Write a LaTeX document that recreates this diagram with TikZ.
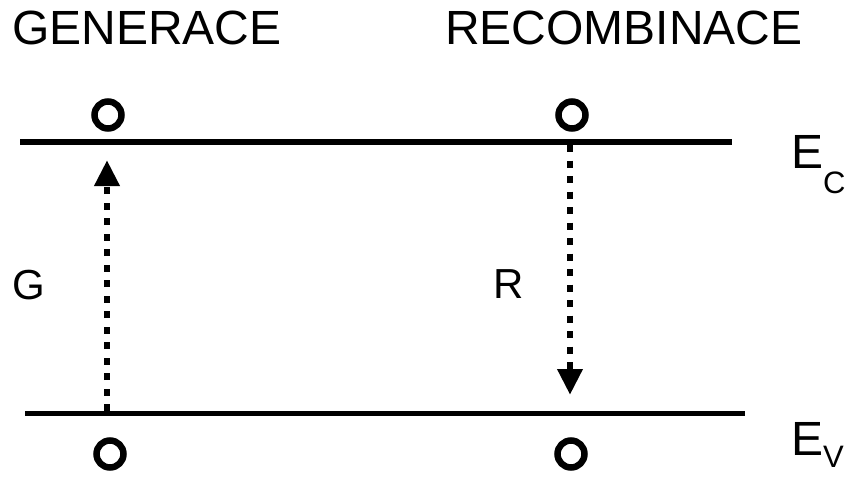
\documentclass[tikz,border=0pt]{standalone}
\usepackage{fontspec}
\setmainfont{Liberation Sans}
\usetikzlibrary{arrows.meta}

\tikzset{
  level/.style={line width=5.5pt},
  carrier/.style={draw, circle, line width=6.5pt, minimum size=27pt, inner sep=0pt},
  transition/.style={line width=6.5pt, dash pattern=on 7pt off 8.5pt,
    -{Triangle[length=26pt,width=24pt]}},
  title/.style={anchor=base west, inner sep=0pt, font=\fontsize{48}{48}\selectfont},
  rate/.style={anchor=base west, inner sep=0pt, font=\fontsize{42}{42}\selectfont},
  band/.style={anchor=base west, inner sep=0pt, font=\fontsize{48}{48}\selectfont}
}

\begin{document}
\begin{tikzpicture}[x=1pt, y=-1pt]
  \useasboundingbox (0,0) rectangle (852,477);

  % headings
  \node[title] (gen) at (12,44) {GENERACE};
  \node[title] (rec) at (445,44) {RECOMBINACE};

  % band edges
  \coordinate (cL) at (20,142);
  \coordinate (cR) at (732,142);
  \coordinate (vL) at (25,413.5);
  \coordinate (vR) at (745,413.5);
  \draw[level] (cL) -- (cR);
  \draw[level] (vL) -- (vR);

  % electrons and holes
  \node[carrier] (eGen) at (108,115) {};
  \node[carrier] (eRec) at (572,115) {};
  \node[carrier] (hGen) at (110,454) {};
  \node[carrier] (hRec) at (571,454) {};

  % transitions
  \coordinate (gFrom) at (107,411);
  \coordinate (gTo) at (107,160);
  \coordinate (rFrom) at (570,145);
  \coordinate (rTo) at (570,395);
  \draw[transition] (gFrom) -- (gTo);
  \draw[transition] (rFrom) -- (rTo);

  % labels
  \node[rate] (lblG) at (12,299) {G};
  \node[rate] (lblR) at (493,298) {R};
  \node[band] (Ec) at (791,168) {E\raisebox{-25pt}{\fontsize{31}{31}\selectfont C}};
  \node[band] (Ev) at (791,455) {E\raisebox{-12pt}{\fontsize{31}{31}\selectfont V}};
\end{tikzpicture}
\end{document}
